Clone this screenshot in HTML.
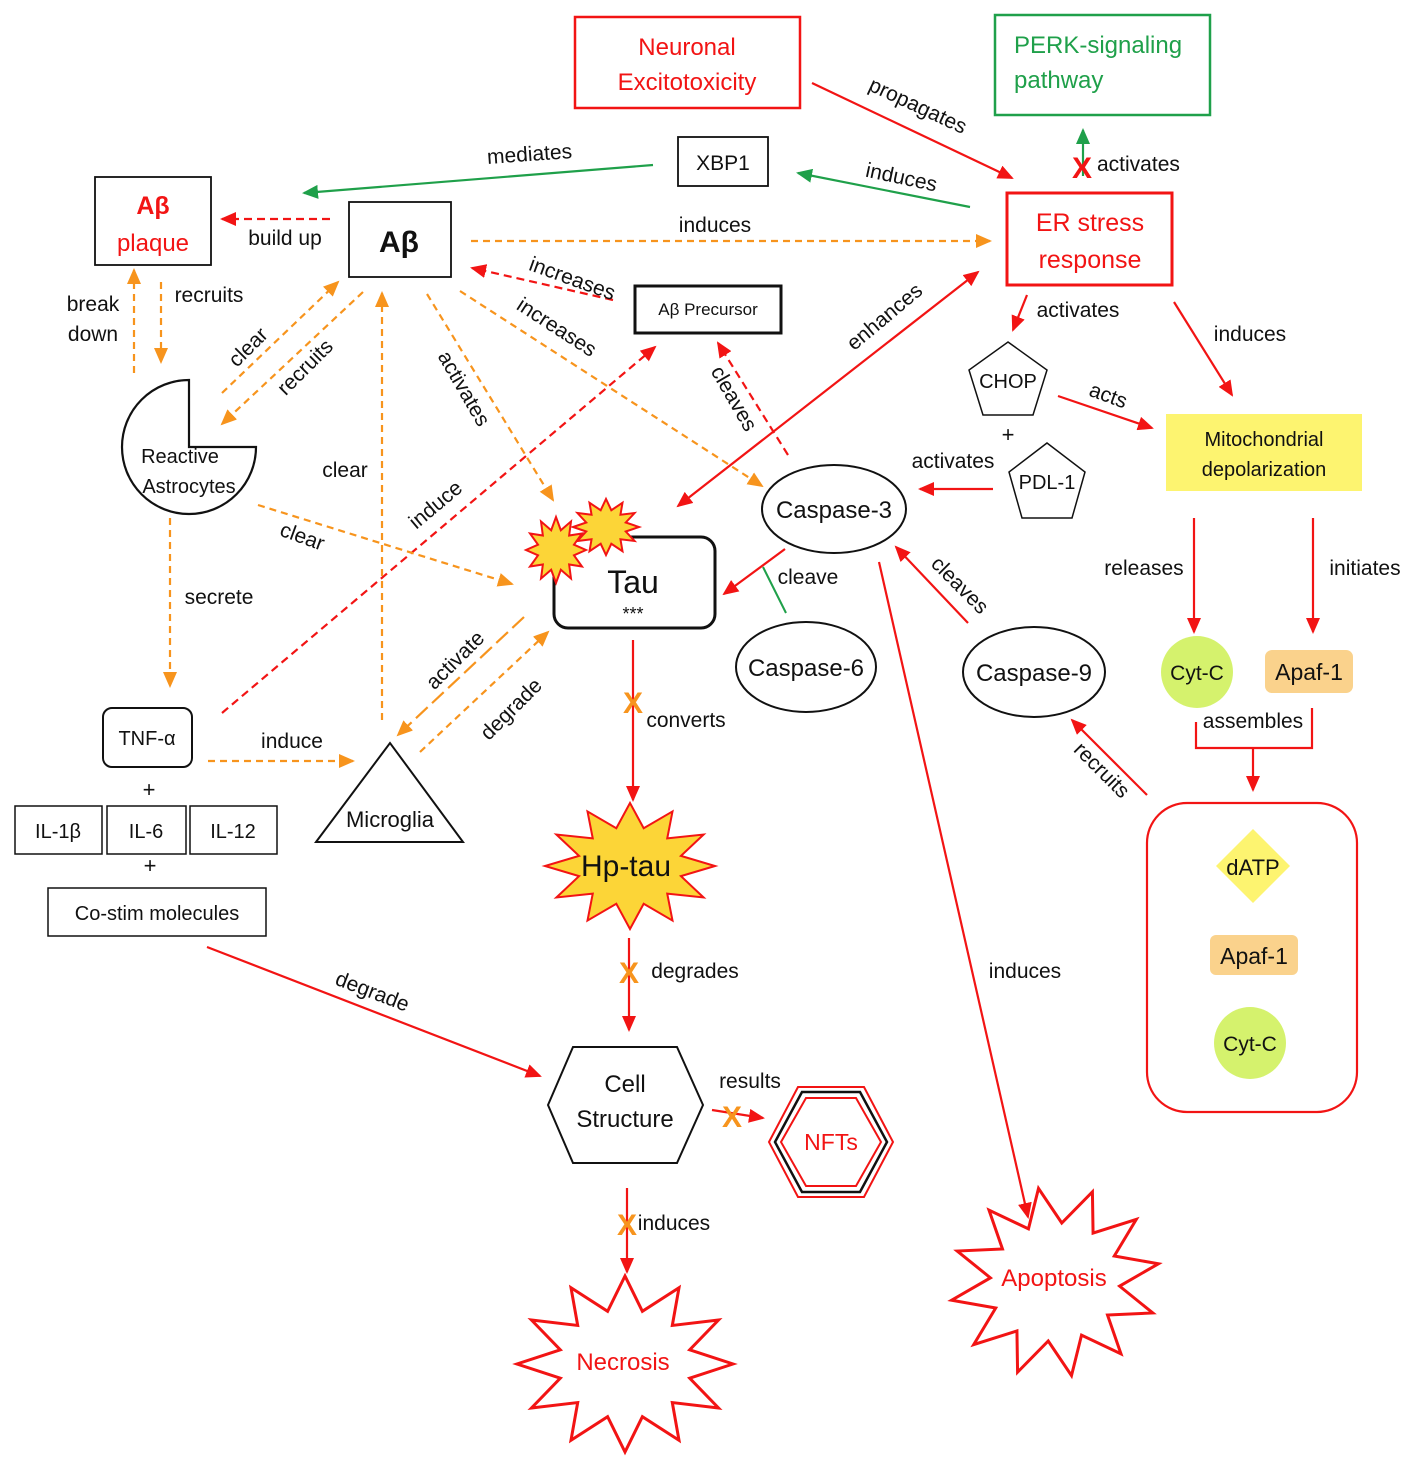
<!DOCTYPE html>
<html><head><meta charset="utf-8"><style>
html,body{margin:0;padding:0;background:#fff}
svg{display:block}
text{font-family:"Liberation Sans","DejaVu Sans",sans-serif;fill:#111}
</style></head><body>
<svg width="1418" height="1473" viewBox="0 0 1418 1473" xmlns="http://www.w3.org/2000/svg">
<defs>
<marker id="mrs" markerWidth="16" markerHeight="14" refX="14" refY="7" orient="auto" markerUnits="userSpaceOnUse"><path d="M0,0 L16,7 L0,14 Z" fill="#f21414"/></marker>
<marker id="mrs0" markerWidth="16" markerHeight="14" refX="2" refY="7" orient="auto" markerUnits="userSpaceOnUse"><path d="M16,0 L0,7 L16,14 Z" fill="#f21414"/></marker>
<marker id="mo" markerWidth="16" markerHeight="14" refX="14" refY="7" orient="auto" markerUnits="userSpaceOnUse"><path d="M0,0 L16,7 L0,14 Z" fill="#f7941d"/></marker>
<marker id="mg" markerWidth="16" markerHeight="14" refX="14" refY="7" orient="auto" markerUnits="userSpaceOnUse"><path d="M0,0 L16,7 L0,14 Z" fill="#1fa04a"/></marker>
<polygon id="star" vector-effect="non-scaling-stroke" points="1,0 .599,.161 .866,.5 .438,.438 .5,.866 .161,.599 0,1 -.161,.599 -.5,.866 -.438,.438 -.866,.5 -.599,.161 -1,0 -.599,-.161 -.866,-.5 -.438,-.438 -.5,-.866 -.161,-.599 0,-1 .161,-.599 .5,-.866 .438,-.438 .866,-.5 .599,-.161"/>
</defs>

<rect x="575" y="17" width="225" height="91" fill="none" stroke="#f21414" stroke-width="2.5"/>
<text x="687" y="55" font-size="24" text-anchor="middle" style="fill:#f21414">Neuronal</text>
<text x="687" y="90" font-size="24" text-anchor="middle" style="fill:#f21414">Excitotoxicity</text>

<rect x="995" y="15" width="215" height="100" fill="none" stroke="#1fa04a" stroke-width="2.5"/>
<text x="1014" y="53" font-size="24" style="fill:#1fa04a">PERK-signaling</text>
<text x="1014" y="88" font-size="24" style="fill:#1fa04a">pathway</text>

<rect x="678" y="137" width="90" height="49" fill="none" stroke="#111" stroke-width="1.8"/>
<text x="723" y="170" font-size="21" text-anchor="middle">XBP1</text>

<rect x="95" y="177" width="116" height="88" fill="none" stroke="#111" stroke-width="1.8"/>
<text x="153" y="214" font-size="25" font-weight="bold" text-anchor="middle" style="fill:#f21414">Aβ</text>
<text x="153" y="251" font-size="24" text-anchor="middle" style="fill:#f21414">plaque</text>

<rect x="349" y="202" width="102" height="75" fill="none" stroke="#111" stroke-width="1.8"/>
<text x="399" y="252" font-size="30" font-weight="bold" text-anchor="middle">Aβ</text>

<rect x="1007" y="193" width="165" height="92" fill="none" stroke="#f21414" stroke-width="3"/>
<text x="1090" y="231" font-size="25" text-anchor="middle" style="fill:#f21414">ER stress</text>
<text x="1090" y="268" font-size="25" text-anchor="middle" style="fill:#f21414">response</text>

<rect x="635" y="286" width="146" height="47" fill="none" stroke="#111" stroke-width="3"/>
<text x="708" y="315" font-size="17" text-anchor="middle">Aβ Precursor</text>

<polygon points="1008,342 1047,370 1033,415 983,415 969,370" fill="none" stroke="#111" stroke-width="1.5"/>
<text x="1008" y="388" font-size="20" text-anchor="middle">CHOP</text>
<text x="1008" y="442" font-size="22" text-anchor="middle">+</text>
<polygon points="1047,443 1085,472 1072,518 1022,518 1009,472" fill="none" stroke="#111" stroke-width="1.5"/>
<text x="1047" y="489" font-size="20" text-anchor="middle">PDL-1</text>

<rect x="1166" y="414" width="196" height="77" fill="#fdf470"/>
<text x="1264" y="446" font-size="20" text-anchor="middle">Mitochondrial</text>
<text x="1264" y="476" font-size="20" text-anchor="middle">depolarization</text>

<path d="M189,447 L189,380 A67,67 0 1,0 256,447 Z" fill="none" stroke="#111" stroke-width="2.2"/>
<text x="180" y="463" font-size="20" text-anchor="middle">Reactive</text>
<text x="189" y="493" font-size="20" text-anchor="middle">Astrocytes</text>

<rect x="554" y="537" width="161" height="91" rx="14" fill="#fff" stroke="#111" stroke-width="3"/>
<text x="633" y="593" font-size="32" text-anchor="middle">Tau</text>
<text x="633" y="620" font-size="18" text-anchor="middle">***</text>
<use href="#star" transform="translate(556,550) scale(30,33)" fill="#fcd537" stroke="#f21414" stroke-width="2"/>
<use href="#star" transform="translate(606,527) scale(33,28)" fill="#fcd537" stroke="#f21414" stroke-width="2"/>

<ellipse cx="834" cy="509" rx="72" ry="44" fill="none" stroke="#111" stroke-width="2"/>
<text x="834" y="518" font-size="24" text-anchor="middle">Caspase-3</text>
<ellipse cx="806" cy="667" rx="70" ry="45" fill="none" stroke="#111" stroke-width="2"/>
<text x="806" y="676" font-size="24" text-anchor="middle">Caspase-6</text>
<ellipse cx="1034" cy="672" rx="71" ry="45" fill="none" stroke="#111" stroke-width="2"/>
<text x="1034" y="681" font-size="24" text-anchor="middle">Caspase-9</text>

<circle cx="1197" cy="672" r="36" fill="#d5f26d"/>
<text x="1197" y="680" font-size="21" text-anchor="middle">Cyt-C</text>
<rect x="1265" y="650" width="88" height="43" rx="7" fill="#fad28c"/>
<text x="1309" y="680" font-size="23" text-anchor="middle">Apaf-1</text>

<rect x="1147" y="803" width="210" height="309" rx="40" fill="none" stroke="#f21414" stroke-width="2.2"/>
<polygon points="1253,829 1290,866 1253,903 1216,866" fill="#fdf470"/>
<text x="1253" y="875" font-size="22" text-anchor="middle">dATP</text>
<rect x="1210" y="935" width="88" height="40" rx="6" fill="#fad28c"/>
<text x="1254" y="964" font-size="23" text-anchor="middle">Apaf-1</text>
<circle cx="1250" cy="1043" r="36" fill="#d5f26d"/>
<text x="1250" y="1051" font-size="21" text-anchor="middle">Cyt-C</text>

<rect x="103" y="708" width="89" height="59" rx="9" fill="none" stroke="#111" stroke-width="2"/>
<text x="147" y="745" font-size="20" text-anchor="middle">TNF-α</text>
<text x="149" y="797" font-size="22" text-anchor="middle">+</text>
<rect x="15" y="806" width="87" height="48" fill="none" stroke="#111" stroke-width="1.5"/>
<text x="58" y="838" font-size="20" text-anchor="middle">IL-1β</text>
<rect x="107" y="806" width="79" height="48" fill="none" stroke="#111" stroke-width="1.5"/>
<text x="146" y="838" font-size="20" text-anchor="middle">IL-6</text>
<rect x="190" y="806" width="87" height="48" fill="none" stroke="#111" stroke-width="1.5"/>
<text x="233" y="838" font-size="20" text-anchor="middle">IL-12</text>
<text x="150" y="873" font-size="22" text-anchor="middle">+</text>
<rect x="48" y="888" width="218" height="48" fill="none" stroke="#111" stroke-width="1.5"/>
<text x="157" y="920" font-size="20" text-anchor="middle">Co-stim molecules</text>

<polygon points="316,842 390,743 463,842" fill="none" stroke="#111" stroke-width="2"/>
<text x="390" y="827" font-size="22" text-anchor="middle">Microglia</text>

<use href="#star" transform="translate(630,866) scale(85,63)" fill="#fcd537" stroke="#f21414" stroke-width="2"/>
<text x="626" y="876" font-size="30" text-anchor="middle">Hp-tau</text>

<polygon points="548,1105 573,1047 677,1047 703,1105 677,1163 573,1163" fill="none" stroke="#111" stroke-width="2"/>
<text x="625" y="1092" font-size="24" text-anchor="middle">Cell</text>
<text x="625" y="1127" font-size="24" text-anchor="middle">Structure</text>

<polygon points="769,1142 798,1087 864,1087 893,1142 864,1197 798,1197" fill="none" stroke="#f21414" stroke-width="2"/>
<polygon points="775,1142 802,1092 860,1092 887,1142 860,1192 802,1192" fill="none" stroke="#111" stroke-width="2.5"/>
<polygon points="781,1142 806,1098 856,1098 881,1142 856,1186 806,1186" fill="none" stroke="#f21414" stroke-width="2"/>
<text x="831" y="1150" font-size="23" text-anchor="middle" style="fill:#f21414">NFTs</text>

<use href="#star" transform="translate(625,1364) scale(108,88)" fill="#fff" stroke="#f21414" stroke-width="3"/>
<text x="623" y="1370" font-size="24" text-anchor="middle" style="fill:#f21414">Necrosis</text>
<use href="#star" transform="translate(1055,1282) rotate(-10) scale(105,95)" fill="#fff" stroke="#f21414" stroke-width="3"/>
<text x="1054" y="1286" font-size="24" text-anchor="middle" style="fill:#f21414">Apoptosis</text>

<g stroke="#f21414" stroke-width="2.2" fill="none">
<line x1="812" y1="83" x2="1012" y2="178" marker-end="url(#mrs)"/>
<line x1="978" y1="272" x2="678" y2="506" marker-end="url(#mrs)" marker-start="url(#mrs0)"/>
<line x1="1027" y1="295" x2="1013" y2="330" marker-end="url(#mrs)"/>
<line x1="1174" y1="302" x2="1232" y2="395" marker-end="url(#mrs)"/>
<line x1="1058" y1="396" x2="1152" y2="428" marker-end="url(#mrs)"/>
<line x1="993" y1="489" x2="920" y2="489" marker-end="url(#mrs)"/>
<line x1="1194" y1="518" x2="1194" y2="632" marker-end="url(#mrs)"/>
<line x1="1313" y1="518" x2="1313" y2="632" marker-end="url(#mrs)"/>
<polyline points="1196,722 1196,748 1312,748 1312,708"/>
<line x1="1253" y1="748" x2="1253" y2="790" marker-end="url(#mrs)"/>
<line x1="1147" y1="795" x2="1072" y2="720" marker-end="url(#mrs)"/>
<line x1="968" y1="623" x2="896" y2="547" marker-end="url(#mrs)"/>
<line x1="785" y1="549" x2="724" y2="594" marker-end="url(#mrs)"/>
<line x1="879" y1="562" x2="1028" y2="1217" marker-end="url(#mrs)"/>
<line x1="633" y1="640" x2="633" y2="800" marker-end="url(#mrs)"/>
<line x1="629" y1="938" x2="629" y2="1030" marker-end="url(#mrs)"/>
<line x1="207" y1="947" x2="540" y2="1076" marker-end="url(#mrs)"/>
<line x1="712" y1="1110" x2="763" y2="1118" marker-end="url(#mrs)"/>
<line x1="627" y1="1188" x2="627" y2="1272" marker-end="url(#mrs)"/>
</g>
<line x1="763" y1="567" x2="786" y2="613" stroke="#1fa04a" stroke-width="2"/>

<g stroke="#f21414" stroke-width="2.2" fill="none" stroke-dasharray="8,5">
<line x1="330" y1="219" x2="222" y2="219" marker-end="url(#mrs)"/>
<line x1="613" y1="300" x2="472" y2="268" marker-end="url(#mrs)"/>
<line x1="788" y1="455" x2="718" y2="343" marker-end="url(#mrs)"/>
<line x1="222" y1="713" x2="655" y2="347" marker-end="url(#mrs)"/>
</g>

<g stroke="#1fa04a" stroke-width="2.2" fill="none">
<line x1="970" y1="207" x2="798" y2="173" marker-end="url(#mg)"/>
<line x1="653" y1="165" x2="304" y2="193" marker-end="url(#mg)"/>
<line x1="1083" y1="176" x2="1083" y2="130" marker-end="url(#mg)"/>
</g>

<g stroke="#f7941d" stroke-width="2.2" fill="none" stroke-dasharray="7,5">
<line x1="471" y1="241" x2="990" y2="241" marker-end="url(#mo)"/>
<line x1="460" y1="291" x2="762" y2="486" marker-end="url(#mo)"/>
<line x1="427" y1="294" x2="553" y2="500" marker-end="url(#mo)"/>
<line x1="134" y1="373" x2="134" y2="270" marker-end="url(#mo)"/>
<line x1="161" y1="282" x2="161" y2="362" marker-end="url(#mo)"/>
<line x1="222" y1="393" x2="338" y2="282" marker-end="url(#mo)"/>
<line x1="363" y1="292" x2="222" y2="424" marker-end="url(#mo)"/>
<line x1="382" y1="720" x2="382" y2="293" marker-end="url(#mo)"/>
<line x1="258" y1="505" x2="512" y2="584" marker-end="url(#mo)"/>
<line x1="170" y1="518" x2="170" y2="686" marker-end="url(#mo)"/>
<line x1="208" y1="761" x2="353" y2="761" marker-end="url(#mo)"/>
<line x1="524" y1="617" x2="398" y2="735" marker-end="url(#mo)" stroke-dasharray="16,6"/>
<line x1="420" y1="752" x2="548" y2="632" marker-end="url(#mo)"/>
</g>

<text x="1082" y="178" font-size="30" font-weight="bold" text-anchor="middle" style="fill:#f21414">X</text>
<g font-size="30" font-weight="bold" text-anchor="middle">
<text x="633" y="713" style="fill:#f7941d">X</text>
<text x="629" y="983" style="fill:#f7941d">X</text>
<text x="732" y="1127" style="fill:#f7941d">X</text>
<text x="627" y="1235" style="fill:#f7941d">X</text>
</g>

<g font-size="21">
<text x="915" y="112" transform="rotate(25 915 112)" text-anchor="middle">propagates</text>
<text x="1097" y="171">activates</text>
<text x="900" y="184" transform="rotate(12 900 184)" text-anchor="middle">induces</text>
<text x="530" y="161" transform="rotate(-4 530 161)" text-anchor="middle">mediates</text>
<text x="285" y="245" text-anchor="middle">build up</text>
<text x="715" y="232" text-anchor="middle">induces</text>
<text x="570" y="285" transform="rotate(20 570 285)" text-anchor="middle">increases</text>
<text x="553" y="333" transform="rotate(33 553 333)" text-anchor="middle">increases</text>
<text x="458" y="392" transform="rotate(60 458 392)" text-anchor="middle">activates</text>
<text x="728" y="402" transform="rotate(60 728 402)" text-anchor="middle">cleaves</text>
<text x="889" y="322" transform="rotate(-40 889 322)" text-anchor="middle">enhances</text>
<text x="1078" y="317" text-anchor="middle">activates</text>
<text x="1250" y="341" text-anchor="middle">induces</text>
<text x="1106" y="402" transform="rotate(20 1106 402)" text-anchor="middle">acts</text>
<text x="953" y="468" text-anchor="middle">activates</text>
<text x="1144" y="575" text-anchor="middle">releases</text>
<text x="1365" y="575" text-anchor="middle">initiates</text>
<text x="1253" y="728" text-anchor="middle">assembles</text>
<text x="1097" y="775" transform="rotate(45 1097 775)" text-anchor="middle">recruits</text>
<text x="955" y="590" transform="rotate(45 955 590)" text-anchor="middle">cleaves</text>
<text x="808" y="584" text-anchor="middle">cleave</text>
<text x="686" y="727" text-anchor="middle">converts</text>
<text x="695" y="978" text-anchor="middle">degrades</text>
<text x="1025" y="978" text-anchor="middle">induces</text>
<text x="370" y="998" transform="rotate(21 370 998)" text-anchor="middle">degrade</text>
<text x="750" y="1088" text-anchor="middle">results</text>
<text x="674" y="1230" text-anchor="middle">induces</text>
<text x="93" y="311" text-anchor="middle">break</text>
<text x="93" y="341" text-anchor="middle">down</text>
<text x="209" y="302" text-anchor="middle">recruits</text>
<text x="253" y="352" transform="rotate(-45 253 352)" text-anchor="middle">clear</text>
<text x="310" y="372" transform="rotate(-45 310 372)" text-anchor="middle">recruits</text>
<text x="345" y="477" text-anchor="middle">clear</text>
<text x="440" y="510" transform="rotate(-40 440 510)" text-anchor="middle">induce</text>
<text x="300" y="543" transform="rotate(20 300 543)" text-anchor="middle">clear</text>
<text x="219" y="604" text-anchor="middle">secrete</text>
<text x="292" y="748" text-anchor="middle">induce</text>
<text x="460" y="665" transform="rotate(-45 460 665)" text-anchor="middle">activate</text>
<text x="516" y="714" transform="rotate(-45 516 714)" text-anchor="middle">degrade</text>
</g>
</svg>
</body></html>
